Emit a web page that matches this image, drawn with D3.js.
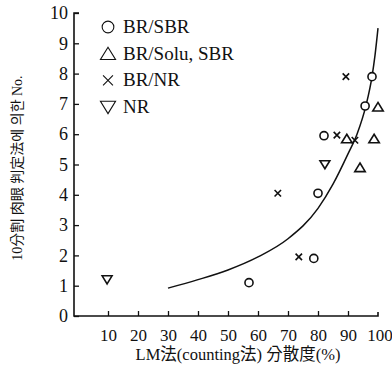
<!DOCTYPE html>
<html>
<head>
<meta charset="utf-8">
<script src="https://cdn.jsdelivr.net/npm/d3@7"></script>
<style>
  body { margin: 0; background: #fff; }
  svg text { font-family: "Liberation Serif", "Noto Sans CJK KR", serif; fill: #111; }
</style>
</head>
<body>
<div id="chart"></div>
<script>

// data
var circlePts = [[98, 7.9], [95.7, 6.93], [82, 5.95], [80, 4.05], [78.6, 1.9], [57, 1.1]];
var trianglePts = [[100, 6.9], [89.6, 5.85], [98.7, 5.85], [94, 4.9]];
var crossPts = [[89.3, 7.9], [86.3, 5.97], [92.3, 5.8], [66.6, 4.05], [73.6, 1.95]];
var downTrianglePts = [[82.3, 5.0], [9.7, 1.2]];

var curvePts = [[30, 0.92], [40, 1.2], [50, 1.52], [60, 1.95], [70, 2.55], [80, 3.55],
    [85, 4.35], [90, 5.35], [93, 6.0], [96, 6.95], [98, 7.9], [99, 8.6], [100, 9.5]];

var legendLabels = ["BR/SBR", "BR/Solu, SBR", "BR/NR", "NR"];
var legendKinds = ["circle", "triangle", "cross", "down"];

var xTicks = [10, 20, 30, 40, 50, 60, 70, 80, 90, 100];
var yTicks = [0, 1, 2, 3, 4, 5, 6, 7, 8, 9, 10];

var xTitle = "LM法(counting法) 分散度(%)";
var yTitle = "10分割 肉眼 判定法에 의한 No.";

var width = 392, height = 383;

var svg = d3.select("#chart").append("svg")
    .attr("width", width)
    .attr("height", height);

// scales
var x = d3.scaleLinear().domain([0, 100]).range([78, 378]);
var y = d3.scaleLinear().domain([0, 10]).range([316, 13]);

// axes lines
svg.append("path")
    .attr("d", `M${x(100)},${y(0) - 4}L${x(100)},${y(0)}L74,${y(0)}L74,${y(10)}L79,${y(10)}`)
    .attr("fill", "none")
    .attr("stroke", "#111")
    .attr("stroke-width", 1.6);

var xAxis = d3.axisBottom(x).tickValues(xTicks.slice(0, 9))
    .tickSizeInner(-5).tickSizeOuter(0).tickPadding(13);
var gx = svg.append("g")
    .attr("transform", `translate(0, ${y(0)})`)
    .call(xAxis);
gx.select(".domain").remove();
gx.selectAll("line").attr("stroke", "#111").attr("stroke-width", 1.3);

// tick label for 100 (no inner tick, axis end turns up)
gx.append("text")
    .attr("x", x(100) + 2)
    .attr("y", 13)
    .attr("dy", "0.71em")
    .attr("text-anchor", "middle")
    .text(xTicks[9]);
gx.selectAll("text").attr("font-size", 17).attr("fill", "#111");

var yAxis = d3.axisLeft(y).tickValues(yTicks)
    .tickSizeInner(-5).tickSizeOuter(0).tickPadding(6);
var gy = svg.append("g")
    .attr("transform", "translate(74, 0)")
    .call(yAxis);
gy.select(".domain").remove();
gy.selectAll("line").attr("stroke", "#111").attr("stroke-width", 1.3);
gy.selectAll("text").attr("font-size", 18).attr("fill", "#111");

// fitted curve
var line = d3.line()
    .x(d => x(d[0]))
    .y(d => y(d[1]))
    .curve(d3.curveMonotoneX);

svg.append("path")
    .datum(curvePts)
    .attr("d", line)
    .attr("fill", "none")
    .attr("stroke", "#111")
    .attr("stroke-width", 1.5);

// marker shapes
function markerPath(kind, s) {
    if (kind == "circle") {
        var p = d3.path();
        p.arc(0, 0, s * 0.45, 0, 2 * Math.PI);
        return p.toString();
    } else if (kind == "triangle") {
        return `M0,${-s * 0.5}L${s * 0.58},${s * 0.45}L${-s * 0.58},${s * 0.45}Z`;
    } else if (kind == "down") {
        return `M0,${s * 0.5}L${s * 0.58},${-s * 0.45}L${-s * 0.58},${-s * 0.45}Z`;
    } else {
        var h = s * 0.38;
        return `M${-h},${-h}L${h},${h}M${-h},${h}L${h},${-h}`;
    }
}

function drawMarkers(pts, kind, size) {
    svg.append("g").selectAll("path")
        .data(pts)
        .enter()
        .append("path")
        .attr("transform", d => `translate(${x(d[0])}, ${y(d[1])})`)
        .attr("d", markerPath(kind, size))
        .attr("fill", kind == "cross" ? "none" : "#fff")
        .attr("stroke", "#111")
        .attr("stroke-width", 1.6);
}

drawMarkers(circlePts, "circle", 9);
drawMarkers(trianglePts, "triangle", 9);
drawMarkers(crossPts, "cross", 8.5);
drawMarkers(downTrianglePts, "down", 8.5);

// legend
var legend = svg.append("g");
legendLabels.forEach(function(label, i) {
    var ly = 27 + i * 26.7;
    legend.append("path")
        .attr("transform", `translate(108, ${ly})`)
        .attr("d", markerPath(legendKinds[i], 13))
        .attr("fill", "none")
        .attr("stroke", "#111")
        .attr("stroke-width", 1.1);
    legend.append("text")
        .attr("x", 123)
        .attr("y", ly + 6)
        .attr("font-size", 19)
        .text(label);
});

// axis titles
svg.append("text")
    .attr("x", 238)
    .attr("y", 360)
    .attr("text-anchor", "middle")
    .attr("font-size", 16.5)
    .text(xTitle);

svg.append("text")
    .attr("transform", "translate(22, 168) rotate(-90)")
    .attr("text-anchor", "middle")
    .attr("font-size", 14)
    .text(yTitle);

</script>
</body>
</html>
